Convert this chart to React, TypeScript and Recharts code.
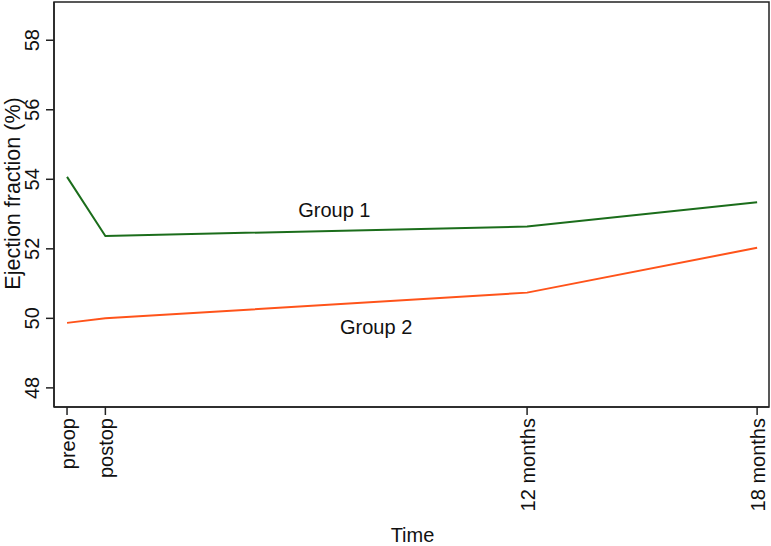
import { LineChart, Line, XAxis, YAxis, ReferenceArea, ReferenceDot } from 'recharts';

// months since surgery: preop=0, postop=1
const timePoints = [0, 1, 12, 18];
const timeLabels = ['preop', 'postop', '12 months', '18 months'];
const group1 = [54.07, 52.37, 52.64, 53.34];
const group2 = [49.87, 50.0, 50.74, 52.03];
const yTicks = [48, 50, 52, 54, 56, 58];

const xDomain = [-0.34, 18.31];
const yDomain = [47.45, 59.1];

const FONT = '"Liberation Sans", Arial, sans-serif';
const GREEN = '#1b6d1b';
const ORANGE = '#ff531a';

const data = timePoints.map((t, i) => ({ t, g1: group1[i], g2: group2[i] }));

const XTick = (props: any) => {
  const { x, y, payload } = props;
  const idx = timePoints.indexOf(payload.value);
  const bx = x + 7.5;
  const by = y + 1;
  return (
    <text
      x={bx}
      y={by}
      transform={`rotate(-90, ${bx}, ${by})`}
      textAnchor="end"
      fontSize={20}
      fontFamily={FONT}
      fill="#111"
    >
      {timeLabels[idx]}
    </text>
  );
};

const YTick = (props: any) => {
  const { y, payload } = props;
  const bx = 39;
  return (
    <text
      x={bx}
      y={y}
      transform={`rotate(-90, ${bx}, ${y})`}
      textAnchor="middle"
      fontSize={20}
      fontFamily={FONT}
      fill="#111"
    >
      {payload.value}
    </text>
  );
};

const groupLabel = (text: string) => (props: any) => {
  const { viewBox } = props;
  return (
    <text x={viewBox.x} y={viewBox.y} fontSize={20} fontFamily={FONT} fill="#111">
      {text}
    </text>
  );
};

export default function App() {
  return (
    <div style={{ position: 'absolute', left: 0, top: 0, background: '#fff' }}>
      <LineChart width={771} height={546} data={data} margin={{ top: 2, right: 2, bottom: 0, left: 0 }}>
        <XAxis
          dataKey="t"
          type="number"
          domain={xDomain}
          ticks={timePoints}
          allowDataOverflow
          height={139}
          tickSize={8}
          tickMargin={2}
          interval={0}
          stroke="#222"
          strokeWidth={1.5}
          tick={<XTick />}
          label={{
            content: (p: any) => (
              <text
                x={p.viewBox.x + p.viewBox.width / 2 + 1}
                y={p.viewBox.y + p.viewBox.height - 4}
                textAnchor="middle"
                fontSize={20}
                fontFamily={FONT}
                fill="#111"
              >
                Time
              </text>
            ),
          }}
        />
        <YAxis
          type="number"
          domain={yDomain}
          ticks={yTicks}
          allowDataOverflow
          width={54}
          tickSize={8}
          interval={0}
          stroke="#222"
          strokeWidth={1.5}
          tick={<YTick />}
          label={{
            content: (p: any) => {
              const cx = 20;
              const cy = p.viewBox.y + p.viewBox.height / 2 - 11;
              return (
                <text
                  x={cx}
                  y={cy}
                  transform={`rotate(-90, ${cx}, ${cy})`}
                  textAnchor="middle"
                  fontSize={21.5}
                  fontFamily={FONT}
                  fill="#111"
                >
                  Ejection fraction (%)
                </text>
              );
            },
          }}
        />
        <ReferenceArea
          x1={xDomain[0]}
          x2={xDomain[1]}
          y1={yDomain[0]}
          y2={yDomain[1]}
          fill="none"
          stroke="#222"
          strokeWidth={1.5}
          ifOverflow="visible"
        />
        <Line
          dataKey="g1"
          stroke={GREEN}
          strokeWidth={2}
          dot={false}
          type="linear"
          isAnimationActive={false}
        />
        <Line
          dataKey="g2"
          stroke={ORANGE}
          strokeWidth={2}
          dot={false}
          type="linear"
          isAnimationActive={false}
        />
        <ReferenceDot x={6.03} y={52.91} r={0} ifOverflow="visible" label={{ content: groupLabel('Group 1') }} />
        <ReferenceDot x={7.12} y={49.55} r={0} ifOverflow="visible" label={{ content: groupLabel('Group 2') }} />
      </LineChart>
    </div>
  );
}
